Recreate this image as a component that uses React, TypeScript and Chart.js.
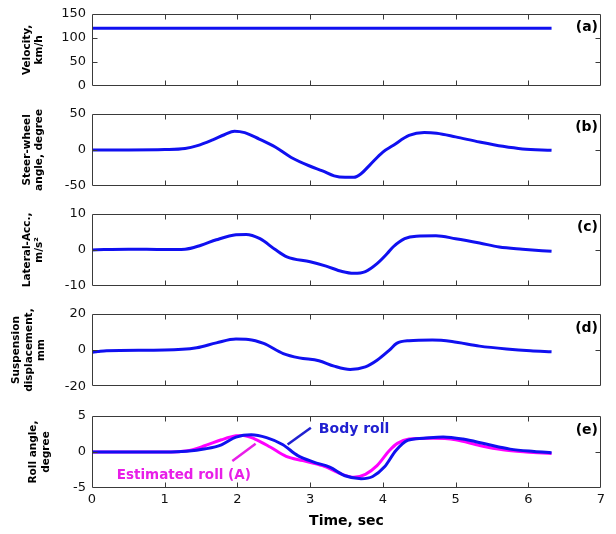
import React, { useEffect, useRef } from "react";
import { Chart, registerables } from "chart.js";

Chart.register(...registerables);

const FONT = "'DejaVu Sans', 'Liberation Sans', sans-serif";
const BLUE = "#1010f0";
const MAGENTA = "#ff00ff";
const AXIS = "#3a3a3a";

// Shared time axis (s)
const X_MIN = 0;
const X_MAX = 7;
const timeTicks = [0, 1, 2, 3, 4, 5, 6, 7];

// (a) vehicle speed, km/h
const velTime = [0, 6.32];
const velocity = [120, 120];

// (b) steering-wheel angle, degree
const steerTime = [0, 0.5, 1.0, 1.28, 1.45, 1.66, 1.82, 1.96, 2.1, 2.3, 2.52, 2.74, 3.01, 3.17, 3.33, 3.48, 3.6, 3.7, 3.82, 4.0, 4.14, 4.36, 4.57, 4.74, 5.0, 5.33, 5.65, 5.92, 6.32];
const steerAngle = [0, 0, 0.5, 2, 6, 14, 21, 26, 24, 15, 4, -10.5, -23, -29, -36, -38, -38, -33, -21, -3, 6, 20, 24, 23, 18, 11, 5, 1.4, -0.5];

// (c) lateral acceleration, m/s²
const accTime = [0, 0.5, 1.0, 1.28, 1.5, 1.71, 1.98, 2.12, 2.31, 2.52, 2.68, 3.0, 3.22, 3.44, 3.6, 3.76, 3.92, 4.06, 4.14, 4.3, 4.46, 4.73, 5.0, 5.33, 5.6, 5.92, 6.32];
const lateralAcc = [0, 0.2, 0.1, 0.2, 1.3, 2.8, 4.2, 4.3, 3.1, 0.1, -1.9, -3.3, -4.5, -6.0, -6.5, -6.0, -3.8, -1.0, 0.8, 3.1, 3.8, 3.9, 3.1, 1.9, 0.8, 0.2, -0.4];

// (d) suspension displacement, mm
const suspTime = [0, 0.08, 0.2, 1.0, 1.44, 1.71, 1.98, 2.15, 2.36, 2.63, 2.85, 3.12, 3.33, 3.55, 3.76, 3.92, 4.09, 4.19, 4.36, 4.68, 4.95, 5.33, 5.7, 6.03, 6.32];
const suspDisp = [-1.2, -0.8, -0.3, 0, 1.3, 4, 6.1, 5.9, 3.7, -1.9, -4.3, -5.9, -8.9, -10.7, -9.3, -5.6, 0, 3.7, 5.2, 5.6, 4.8, 2.2, 0.6, -0.4, -0.9];

// (e) roll angle, degree
const bodyRollTime = [0, 1.0, 1.3, 1.56, 1.78, 1.98, 2.19, 2.4, 2.62, 2.83, 3.05, 3.27, 3.48, 3.7, 3.86, 4.02, 4.18, 4.34, 4.56, 4.83, 5.1, 5.42, 5.75, 6.08, 6.32];
const bodyRoll = [0, 0, 0.1, 0.44, 1.0, 2.07, 2.4, 2.0, 1.05, -0.5, -1.4, -2.1, -3.3, -3.7, -3.4, -2.1, 0.2, 1.6, 1.9, 2.1, 1.8, 1.1, 0.4, 0.07, -0.1];
const estRollTime = [0, 1.0, 1.2, 1.34, 1.56, 1.78, 1.98, 2.08, 2.24, 2.45, 2.67, 2.9, 3.17, 3.44, 3.6, 3.76, 3.92, 4.09, 4.2, 4.36, 4.68, 5.0, 5.33, 5.65, 5.97, 6.32];
const estRoll = [0, 0, 0.05, 0.2, 0.9, 1.7, 2.25, 2.3, 1.8, 0.7, -0.6, -1.2, -1.9, -3.1, -3.5, -3.1, -1.9, 0.2, 1.2, 1.8, 1.9, 1.7, 0.9, 0.3, 0, -0.2];

// Callout labels in panel (e), in data units
const bodyRollLabel = { text: "Body roll", x: 3.12, y: 3.2 };
const bodyRollPointer = [3.01, 3.37, 2.69, 1.04];
const estRollLabel = { text: "Estimated roll (A)", x: 0.34, y: -3.2 };
const estRollPointer = [1.93, -1.25, 2.25, 1.14];

type Series = { t: number[]; v: number[]; color: string };
type Note = { text: string; x: number; y: number; color: string; size: number };
type Pointer = { pts: number[]; color: string };

type PanelCfg = {
  top: number;
  height: number;
  padTop: number;
  padBottom: number;
  yMin: number;
  yMax: number;
  yStep: number;
  yTitle: string[];
  yTitlePad: number;
  tag: string;
  series: Series[];
  showTime?: boolean;
  notes?: Note[];
  pointers?: Pointer[];
};

const panels: PanelCfg[] = [
  {
    top: 0, height: 100, padTop: 13, padBottom: 14,
    yMin: 0, yMax: 150, yStep: 50,
    yTitle: ["Velocity,", "km/h"], yTitlePad: 20.7, tag: "(a)",
    series: [{ t: velTime, v: velocity, color: BLUE }],
  },
  {
    top: 100, height: 100, padTop: 13, padBottom: 14,
    yMin: -50, yMax: 50, yStep: 50,
    yTitle: ["Steer-wheel", "angle, degree"], yTitlePad: 20.7, tag: "(b)",
    series: [{ t: steerTime, v: steerAngle, color: BLUE }],
  },
  {
    top: 200, height: 100, padTop: 13, padBottom: 14,
    yMin: -10, yMax: 10, yStep: 10,
    yTitle: ["Lateral-Acc.,", "m/s²"], yTitlePad: 20.7, tag: "(c)",
    series: [{ t: accTime, v: lateralAcc, color: BLUE }],
  },
  {
    top: 300, height: 100, padTop: 14, padBottom: 13,
    yMin: -20, yMax: 20, yStep: 20,
    yTitle: ["Suspension", "displacement,", "mm"], yTitlePad: 10, tag: "(d)",
    series: [{ t: suspTime, v: suspDisp, color: BLUE }],
  },
  {
    top: 400, height: 134, padTop: 16, padBottom: 0,
    yMin: -5, yMax: 5, yStep: 5,
    yTitle: ["Roll angle,", "degree"], yTitlePad: 27, tag: "(e)",
    series: [
      { t: bodyRollTime, v: bodyRoll, color: BLUE },
      { t: estRollTime, v: estRoll, color: MAGENTA },
    ],
    showTime: true,
    notes: [
      { ...bodyRollLabel, color: "#2020d0", size: 14 },
      { ...estRollLabel, color: "#e81ee8", size: 13.5 },
    ],
    pointers: [
      { pts: bodyRollPointer, color: "#2020d0" },
      { pts: estRollPointer, color: "#e81ee8" },
    ],
  },
];

// Box frame with inward tick marks on all four sides, plus the panel tag
function framePlugin(tag: string) {
  return {
    id: "frame",
    afterDatasetsDraw(chart: any) {
      const { ctx, chartArea: a, scales } = chart;
      const xs = scales.x;
      const ys = scales.y;
      const L = Math.round(a.left) + 0.5;
      const R = Math.round(a.right) - 0.5;
      const T = Math.round(a.top) + 0.5;
      const B = Math.round(a.bottom) - 0.5;
      const len = 5;
      ctx.save();
      ctx.strokeStyle = AXIS;
      ctx.lineWidth = 1;
      ctx.beginPath();
      ctx.rect(L, T, R - L, B - T);
      for (const t of timeTicks) {
        if (t <= X_MIN || t >= X_MAX) continue;
        const px = Math.round(xs.getPixelForValue(t)) + 0.5;
        ctx.moveTo(px, B);
        ctx.lineTo(px, B - len);
        ctx.moveTo(px, T);
        ctx.lineTo(px, T + len);
      }
      for (const tk of ys.ticks) {
        if (tk.value <= ys.min || tk.value >= ys.max) continue;
        const py = Math.round(ys.getPixelForValue(tk.value)) + 0.5;
        ctx.moveTo(L, py);
        ctx.lineTo(L + len, py);
        ctx.moveTo(R, py);
        ctx.lineTo(R - len, py);
      }
      ctx.stroke();
      ctx.fillStyle = "#000";
      ctx.font = `bold 14px ${FONT}`;
      ctx.textAlign = "right";
      ctx.textBaseline = "middle";
      ctx.fillText(tag, a.right - 3, a.top + 14);
      ctx.restore();
    },
  };
}

// Text callouts with short pointer strokes
function notesPlugin(notes: Note[], pointers: Pointer[]) {
  return {
    id: "notes",
    afterDatasetsDraw(chart: any) {
      const { ctx, scales } = chart;
      const xs = scales.x;
      const ys = scales.y;
      ctx.save();
      ctx.lineWidth = 2.5;
      ctx.lineCap = "butt";
      for (const p of pointers) {
        ctx.strokeStyle = p.color;
        ctx.beginPath();
        ctx.moveTo(xs.getPixelForValue(p.pts[0]), ys.getPixelForValue(p.pts[1]));
        ctx.lineTo(xs.getPixelForValue(p.pts[2]), ys.getPixelForValue(p.pts[3]));
        ctx.stroke();
      }
      ctx.textAlign = "left";
      ctx.textBaseline = "middle";
      for (const n of notes) {
        ctx.fillStyle = n.color;
        ctx.font = `bold ${n.size}px ${FONT}`;
        ctx.fillText(n.text, xs.getPixelForValue(n.x), ys.getPixelForValue(n.y));
      }
      ctx.restore();
    },
  };
}

function Panel({ cfg }: { cfg: PanelCfg }) {
  const ref = useRef<HTMLCanvasElement>(null);

  useEffect(() => {
    const canvas = ref.current;
    if (!canvas) return;
    const showTime = !!cfg.showTime;
    const chart = new Chart(canvas, {
      type: "line",
      data: {
        datasets: cfg.series.map((s) => ({
          data: s.t.map((x, i) => ({ x, y: s.v[i] })),
          borderColor: s.color,
          backgroundColor: s.color,
          borderWidth: 3,
          pointRadius: 0,
          fill: false,
          tension: 0.4,
          cubicInterpolationMode: "monotone" as const,
          borderJoinStyle: "round" as const,
        })),
      },
      options: {
        responsive: false,
        maintainAspectRatio: false,
        devicePixelRatio: 1,
        animation: false,
        events: [],
        layout: {
          padding: { left: 0, right: 15, top: cfg.padTop, bottom: cfg.padBottom },
        },
        plugins: {
          legend: { display: false },
          tooltip: { enabled: false },
        },
        scales: {
          x: {
            type: "linear",
            min: X_MIN,
            max: X_MAX,
            display: showTime,
            grid: { display: false, drawTicks: false },
            border: { display: false },
            afterBuildTicks: (scale: any) => {
              scale.ticks = timeTicks.map((value) => ({ value }));
            },
            afterFit: (scale: any) => {
              scale.height = showTime ? 46 : 0;
            },
            ticks: {
              padding: 4,
              color: "#111",
              font: { family: FONT, size: 13 },
              maxRotation: 0,
            },
            title: {
              display: showTime,
              text: "Time, sec",
              color: "#000",
              font: { family: FONT, size: 14, weight: "bold" },
              padding: { top: 0, bottom: 4.6 },
            },
          },
          y: {
            type: "linear",
            min: cfg.yMin,
            max: cfg.yMax,
            grid: { display: false, drawTicks: false },
            border: { display: false },
            afterFit: (scale: any) => {
              scale.width = 92;
            },
            ticks: {
              stepSize: cfg.yStep,
              padding: 6,
              autoSkip: false,
              color: "#111",
              font: { family: FONT, size: 13 },
            },
            title: {
              display: true,
              text: cfg.yTitle,
              color: "#000",
              font: { family: FONT, size: 10.5, weight: "bold", lineHeight: 1.2 },
              padding: { top: cfg.yTitlePad, bottom: 0 },
            },
          },
        },
      },
      plugins: [
        framePlugin(cfg.tag),
        notesPlugin(cfg.notes || [], cfg.pointers || []),
      ],
    });
    return () => chart.destroy();
  }, [cfg]);

  return (
    <canvas
      ref={ref}
      width={616}
      height={cfg.height}
      style={{ position: "absolute", left: 0, top: cfg.top, width: 616, height: cfg.height }}
    />
  );
}

export default function App() {
  return (
    <div
      style={{
        position: "fixed",
        left: 0,
        top: 0,
        width: 616,
        height: 534,
        background: "#fff",
        overflow: "hidden",
      }}
    >
      {panels.map((p) => (
        <Panel key={p.tag} cfg={p} />
      ))}
    </div>
  );
}
